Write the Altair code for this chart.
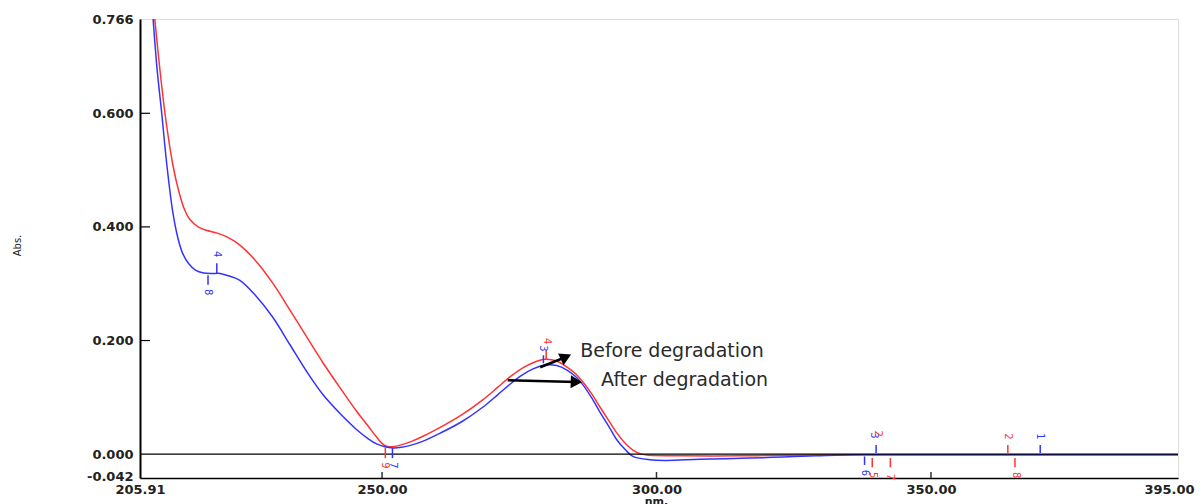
import altair as alt
import pandas as pd

# ---- spectra (wavelength nm, absorbance) ----
red_nm = [208.6, 209.5, 210.5, 211.9, 213.0, 214.0, 215.0, 216.5, 218.0, 220.0, 222.0, 224.1,
          227.2, 230.1, 233.2, 236.3, 239.3, 242.4, 245.4, 247.5, 249.0, 250.0, 250.8, 251.8,
          253.0, 255.5, 258.0, 260.6, 264.5, 268.4, 271.0, 273.3, 275.5, 277.5, 279.7, 281.8,
          283.7, 285.2, 286.6, 288.2, 289.7, 291.3, 292.8, 294.3, 295.7, 297.2, 298.8, 304.8,
          315.0, 323.1, 340.0, 362.6, 380.0, 395.0]
red_abs = [0.766, 0.680, 0.597, 0.509, 0.462, 0.431, 0.413, 0.400, 0.394, 0.389, 0.381, 0.368,
           0.338, 0.301, 0.254, 0.206, 0.160, 0.116, 0.075, 0.049, 0.030, 0.019, 0.014, 0.013,
           0.015, 0.023, 0.034, 0.047, 0.069, 0.096, 0.117, 0.136, 0.151, 0.161, 0.167, 0.164,
           0.153, 0.142, 0.127, 0.106, 0.083, 0.059, 0.037, 0.019, 0.007, 0.000, -0.002, -0.003,
           -0.003, -0.002, -0.001, -0.001, -0.001, -0.001]

blue_nm = [208.3, 209.0, 209.9, 210.8, 211.9, 212.8, 213.7, 214.8, 216.0, 217.5, 219.0, 220.5,
           222.0, 224.1, 227.0, 230.1, 233.2, 236.3, 239.3, 242.4, 245.4, 247.5, 249.0, 250.5,
           252.0, 253.5, 255.0, 257.5, 260.6, 264.5, 268.4, 271.0, 273.3, 275.5, 277.5, 279.7,
           281.8, 283.7, 285.2, 286.6, 288.2, 289.7, 291.3, 292.8, 294.3, 295.7, 298.8, 301.9,
           307.9, 317.0, 323.1, 329.2, 337.1, 362.6, 395.0]
blue_abs = [0.766, 0.680, 0.597, 0.509, 0.425, 0.381, 0.353, 0.335, 0.324, 0.319, 0.318, 0.318,
            0.314, 0.306, 0.279, 0.241, 0.193, 0.145, 0.104, 0.071, 0.043, 0.027, 0.018, 0.013,
            0.011, 0.012, 0.015, 0.023, 0.037, 0.057, 0.083, 0.104, 0.123, 0.139, 0.150, 0.157,
            0.156, 0.148, 0.137, 0.122, 0.099, 0.074, 0.049, 0.025, 0.008, -0.004, -0.010, -0.011,
            -0.009, -0.007, -0.005, -0.003, -0.001, -0.001, -0.001]

# ---- axis ticks ----
x_ticks = [205.91, 250.00, 300.00, 350.00, 395.00]
y_ticks = [0.766, 0.600, 0.400, 0.200, 0.000, -0.042]
x_inner_ticks = [250.0, 300.0, 350.0]
y_inner_ticks = [0.600, 0.400, 0.200]

# ---- peak-pick markers ----
mk_text = ["8", "4", "3", "4", "7", "9", "3", "2", "6", "5", "7", "2", "1", "8"]
mk_nm = [218.3, 219.9, 279.3, 280.0, 252.0, 250.6, 339.6, 340.3, 337.9, 339.5, 342.6, 364.1, 369.9, 365.4]
mk_abs = [0.285, 0.352, 0.186, 0.199, -0.020, -0.020, 0.033, 0.036, -0.033, -0.037, -0.040, 0.031, 0.031, -0.037]
mk_col = ["blue", "blue", "blue", "red", "blue", "red", "blue", "red", "blue", "red", "red", "red", "blue", "red"]

tk_nm = [218.3, 219.9, 279.4, 279.9, 250.6, 251.9, 340.0, 337.9, 339.3, 342.6, 364.0, 369.9, 365.3]
tk_y1 = [0.315, 0.336, 0.174, 0.183, 0.011, 0.011, 0.016, -0.004, -0.007, -0.007, 0.016, 0.016, -0.007]
tk_y2 = [0.298, 0.319, 0.160, 0.167, -0.007, -0.007, 0.002, -0.019, -0.023, -0.023, 0.002, 0.002, -0.023]
tk_col = ["blue", "blue", "blue", "red", "red", "blue", "blue", "blue", "red", "red", "red", "blue", "red"]

# ---- legend-like annotations ----
ann_text = ["Before degradation", "After degradation"]
ann_nm = [286.1, 289.9]
ann_abs = [0.181, 0.130]

arrow_nm = [278.8, 272.9]
arrow_abs = [0.153, 0.130]
arrow_nm2 = [283.5, 285.4]
arrow_abs2 = [0.171, 0.127]

RED = "#ff3333"
BLUE = "#3333ff"

df = pd.concat([
    pd.DataFrame({"nm": red_nm, "abs": red_abs, "series": "red", "order": range(len(red_nm))}),
    pd.DataFrame({"nm": blue_nm, "abs": blue_abs, "series": "blue", "order": range(len(blue_nm))}),
])

xscale = alt.Scale(domain=[205.91, 395.0], nice=False, zero=False)
yscale = alt.Scale(domain=[-0.042, 0.766], nice=False, zero=False)
cscale = alt.Scale(domain=["red", "blue"], range=[RED, BLUE])

label_font = "DejaVu Sans"

lines = alt.Chart(df).mark_line(strokeWidth=1.5, clip=True, interpolate="catmull-rom").encode(
    x=alt.X("nm:Q", scale=xscale, title="nm.",
            axis=alt.Axis(values=x_ticks, format=".2f", ticks=False, grid=False,
                          labelFont=label_font, labelFontSize=13, labelFontWeight="bold",
                          labelColor="#222", labelPadding=5, labelFlush=False, labelOverlap=False,
                          labelOffset={"condition": {"test": "datum.value > 390", "value": -9}, "value": 0},
                          domainColor="black", domainWidth=1.5,
                          titleFont=label_font, titleFontSize=11, titleFontWeight="bold",
                          titleColor="#222", titleX=516, titleY=17, titleBaseline="top")),
    y=alt.Y("abs:Q", scale=yscale, title="Abs.",
            axis=alt.Axis(values=y_ticks, format=".3f", ticks=False, grid=False,
                          labelExpr="replace(datum.label, '\u2212', '-')",
                          labelFont=label_font, labelFontSize=13, labelFontWeight="bold",
                          labelColor="#222", labelPadding=7, labelOverlap=False, labelFlush=False,
                          labelOffset={"condition": {"test": "datum.value < 0", "value": -2}, "value": 0},
                          domainColor="black", domainWidth=2,
                          titleFont=label_font, titleFontSize=10, titleFontWeight="normal",
                          titleColor="#222", titleX=-123, titleY=226, titleAngle=270,
                          titleBaseline="middle", titleAlign="center")),
    color=alt.Color("series:N", scale=cscale, legend=None),
    order="order:Q",
    detail="series:N",
)

zero_line = alt.Chart(pd.DataFrame({"abs": [0.0]})).mark_rule(color="black", strokeWidth=1.2).encode(
    y=alt.Y("abs:Q", scale=yscale)
)

yt = alt.Chart(pd.DataFrame({"abs": y_inner_ticks})).mark_rule(color="black", strokeWidth=1.2).encode(
    y=alt.Y("abs:Q", scale=yscale), x=alt.value(0), x2=alt.value(10)
)
xt = alt.Chart(pd.DataFrame({"nm": x_inner_ticks})).mark_rule(color="#333", strokeWidth=1.5).encode(
    x=alt.X("nm:Q", scale=xscale), y=alt.value(453), y2=alt.value(459)
)

tk_df = pd.DataFrame({"nm": tk_nm, "abs": tk_y1, "abs2": tk_y2, "c": tk_col})
ticks_mk = alt.Chart(tk_df).mark_rule(strokeWidth=1.5).encode(
    x=alt.X("nm:Q", scale=xscale), y=alt.Y("abs:Q", scale=yscale), y2="abs2:Q",
    color=alt.Color("c:N", scale=cscale, legend=None),
)

mk_df = pd.DataFrame({"nm": mk_nm, "abs": mk_abs, "t": mk_text, "c": mk_col})
marks_txt = alt.Chart(mk_df).mark_text(fontSize=10, angle=90, font=label_font).encode(
    x=alt.X("nm:Q", scale=xscale), y=alt.Y("abs:Q", scale=yscale), text="t:N",
    color=alt.Color("c:N", scale=cscale, legend=None),
)

ann_df = pd.DataFrame({"nm": ann_nm, "abs": ann_abs, "t": ann_text})
ann = alt.Chart(ann_df).mark_text(align="left", baseline="middle", fontSize=19, font=label_font,
                                  color="#2a2a2a").encode(
    x=alt.X("nm:Q", scale=xscale), y=alt.Y("abs:Q", scale=yscale), text="t:N"
)

arr_df = pd.DataFrame({"nm": arrow_nm, "abs": arrow_abs, "nm2": arrow_nm2, "abs2": arrow_abs2})
arr_lines = alt.Chart(arr_df).mark_rule(color="black", strokeWidth=2.5).encode(
    x=alt.X("nm:Q", scale=xscale), y=alt.Y("abs:Q", scale=yscale), x2="nm2:Q", y2="abs2:Q"
)
head1 = alt.Chart(arr_df.iloc[[0]]).mark_point(shape="triangle-up", filled=True, size=170, angle=65,
                                               color="black", opacity=1).encode(
    x=alt.X("nm2:Q", scale=xscale), y=alt.Y("abs2:Q", scale=yscale)
)
head2 = alt.Chart(arr_df.iloc[[1]]).mark_point(shape="triangle-up", filled=True, size=170, angle=92,
                                               color="black", opacity=1).encode(
    x=alt.X("nm2:Q", scale=xscale), y=alt.Y("abs2:Q", scale=yscale)
)

chart = alt.layer(lines, zero_line, yt, xt, ticks_mk, marks_txt, arr_lines, head1, head2, ann).properties(
    width=1038, height=459,
    autosize=alt.AutoSizeParams(type="none"),
    padding={"left": 132, "top": 11, "right": 17, "bottom": 26},
).configure_view(stroke="black", strokeWidth=1.5).configure(background="white")

chart.save("out.html", embed_options={"renderer": "svg", "actions": False})
